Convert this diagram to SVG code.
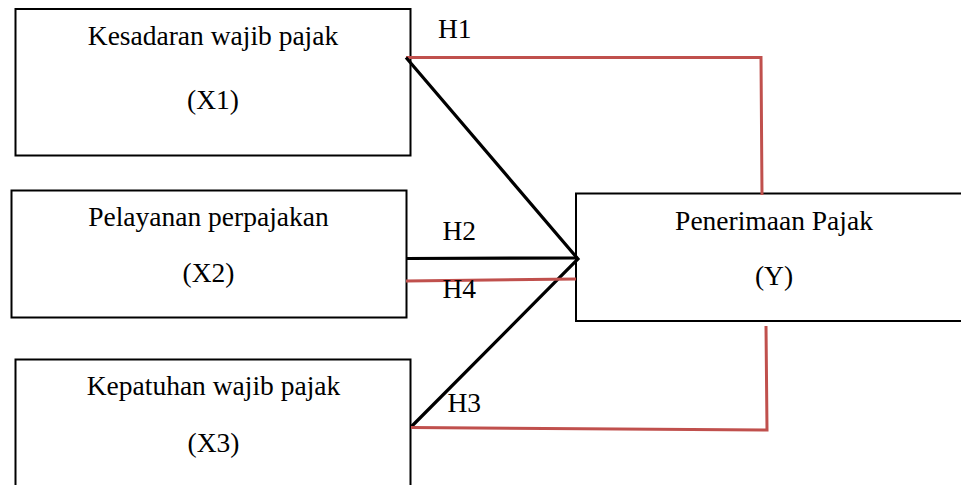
<svg xmlns="http://www.w3.org/2000/svg" width="961" height="485" viewBox="0 0 961 485">
<style>
.box{fill:#fff;stroke:#000;stroke-width:2}
.t{font-family:"Liberation Serif","Times New Roman",serif;font-size:27.5px;fill:#000;text-anchor:middle}
.l{font-family:"Liberation Serif","Times New Roman",serif;font-size:27.5px;fill:#000}
.blk{fill:none;stroke:#000;stroke-width:3.2;stroke-linejoin:miter}
.red{fill:none;stroke:#C0504D;stroke-width:3}
</style>
<rect width="961" height="485" fill="#fff"/>
<g id="x1">
<rect class="box" x="15.5" y="9" width="395" height="146.5"/>
<text class="t" x="213" y="44.5">Kesadaran wajib pajak</text>
<text class="t" x="213" y="108.5">(X1)</text>
</g>
<g id="x2">
<rect class="box" x="11.5" y="190.5" width="395" height="127"/>
<text class="t" x="208.5" y="225.5">Pelayanan perpajakan</text>
<text class="t" x="208.5" y="281.5">(X2)</text>
</g>
<g id="x3">
<rect class="box" x="15.5" y="359.5" width="395" height="140"/>
<text class="t" x="213.5" y="395">Kepatuhan wajib pajak</text>
<text class="t" x="213.5" y="451.5">(X3)</text>
</g>
<g id="y">
<rect class="box" x="576" y="193.5" width="400" height="127.5"/>
<text class="t" x="774" y="230">Penerimaan Pajak</text>
<text class="t" x="774" y="285">(Y)</text>
</g>
<g id="connectors">
<polyline class="red" points="406,57.5 761,57.5 762,195"/>
<polyline class="blk" points="406,57.5 578,259 411,427"/>
<line class="blk" x1="406" y1="258.5" x2="578" y2="258"/>
<line class="red" x1="406" y1="281" x2="576" y2="279"/>
<polyline class="red" points="411,427.5 767,430 766,326"/>
</g>
<g id="labels">
<text class="l" x="438" y="37.5">H1</text>
<text class="l" x="442.5" y="240">H2</text>
<text class="l" x="442.5" y="298">H4</text>
<text class="l" x="447.5" y="411.5">H3</text>
</g>
</svg>
